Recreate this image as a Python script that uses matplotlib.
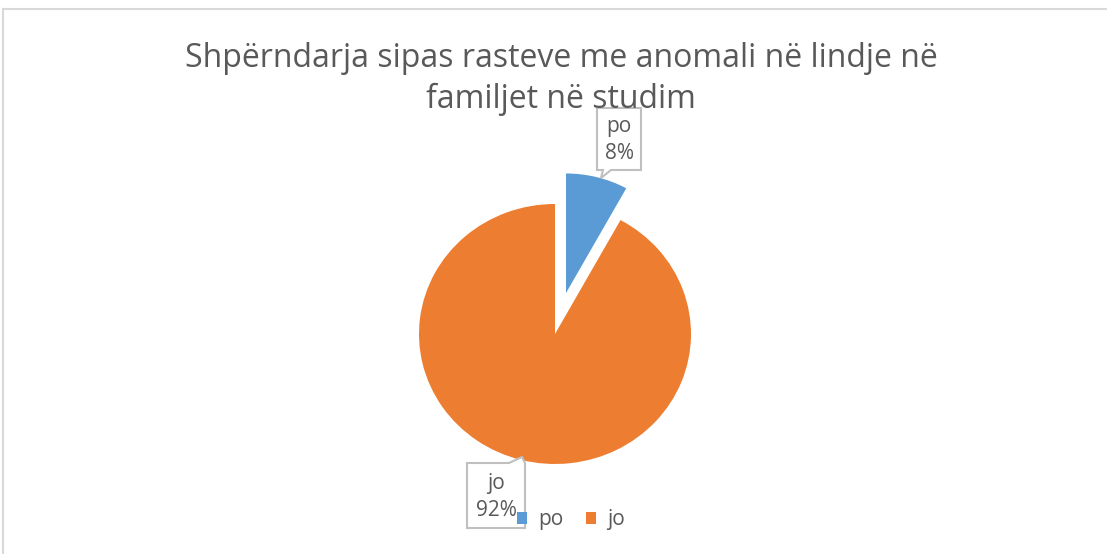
import matplotlib
matplotlib.use("Agg")
import matplotlib.pyplot as plt
from matplotlib.patches import Polygon
from matplotlib.lines import Line2D

labels = ["po", "jo"]
values = [8, 92]
colors = ["#5B9BD5", "#ED7D31"]
title = "Shpërndarja sipas rasteve me anomali në lindje në\nfamiljet në studim"
text_color = "#595959"

plt.rcParams['font.family'] = ['Open Sans', 'DejaVu Sans']

W, H = 1107, 554
fig = plt.figure(figsize=(W / 100, H / 100), dpi=100)

# pie axes: centre (555, 334) px, slightly wider than tall like the original
cx, cy, rx, ry = 555, 334, 136, 130
ax = fig.add_axes([(cx - rx) / W, (H - cy - ry) / H, 2 * rx / W, 2 * ry / H])
wedges, _ = ax.pie(values, colors=colors, startangle=90, counterclock=False,
                   explode=[0.325, 0], radius=1.0, center=(0, 0),
                   wedgeprops=dict(linewidth=0))
wedges[0].set_radius(0.92)
ax.set_xlim(-1, 1)
ax.set_ylim(-1, 1)
ax.set_aspect("auto")
ax.axis("off")


def px(x, y):
    return ((x - cx) / rx, (cy - y) / ry)


# callout boxes
po_box = [px(597, 108), px(641, 108), px(641, 170), px(611, 170),
          px(601, 178), px(603, 170), px(597, 170)]
jo_box = [px(467, 463), px(509, 463), px(522, 457), px(525, 463),
          px(525, 528), px(467, 528)]
for pts in (po_box, jo_box):
    ax.add_patch(Polygon(pts, closed=True, facecolor="white", edgecolor="#BFBFBF",
                         linewidth=1.5, clip_on=False, zorder=5))

pct = [f"{v}%" for v in values]
ax.text(*px(619, 140), f"{labels[0]}\n{pct[0]}", ha="center", va="center",
        fontsize=15, color=text_color, linespacing=1.35, zorder=6)
ax.text(*px(496, 497), f"{labels[1]}\n{pct[1]}", ha="center", va="center",
        fontsize=15, color=text_color, linespacing=1.35, zorder=6)

fig.text(561 / W, 1 - 79 / H, title, ha="center", va="center",
         fontsize=23, color=text_color, linespacing=1.32)

fig.legend(wedges, labels, loc="center", bbox_to_anchor=(571 / W, 1 - 520 / H),
           ncol=2, frameon=False, fontsize=15, labelcolor=text_color,
           handlelength=0.45, handleheight=0.45, handletextpad=0.55,
           columnspacing=1.1)

# chart border
fig.add_artist(Line2D([3 / W, 1], [1 - 9 / H, 1 - 9 / H], color="#D9D9D9", lw=1.5))
fig.add_artist(Line2D([3 / W, 3 / W], [0, 1 - 9 / H], color="#D9D9D9", lw=1.5))

fig.savefig("out.png", dpi=100, facecolor="white")
